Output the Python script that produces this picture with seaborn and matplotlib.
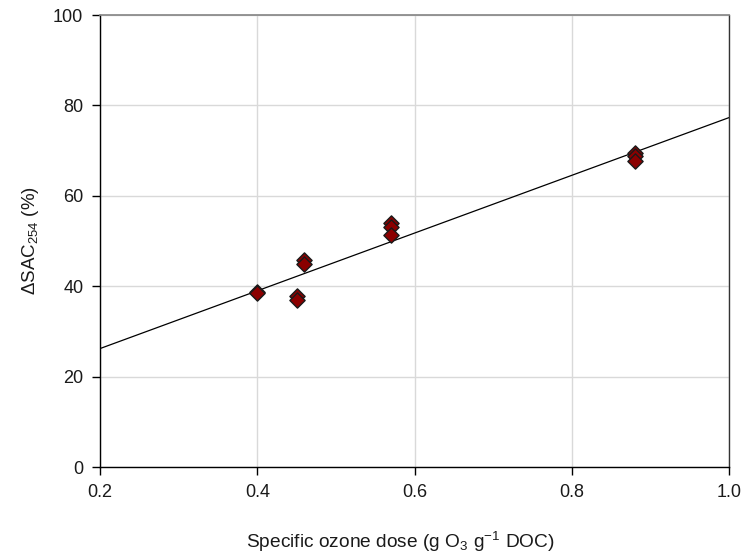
import matplotlib
matplotlib.use("Agg")
import matplotlib.pyplot as plt
import seaborn as sns
import pandas as pd

dose = [0.40, 0.40, 0.45, 0.45, 0.46, 0.46, 0.57, 0.57, 0.57, 0.88, 0.88, 0.88]
dsac = [38.8, 38.4, 37.9, 37.0, 45.8, 45.0, 54.0, 53.2, 51.3, 69.4, 68.8, 67.8]
fit_x = [0.2, 1.0]
fit_y = [26.2, 77.3]
xticks = [0.2, 0.4, 0.6, 0.8, 1.0]
yticks = [0, 20, 40, 60, 80, 100]

sns.set_theme(style="white")
plt.rcParams['font.family'] = ['Liberation Sans', 'DejaVu Sans']
plt.rcParams['mathtext.default'] = 'regular'

fig = plt.figure(figsize=(7.42, 5.53), dpi=100)
ax = fig.add_axes([100/742, 1-467/553, 629/742, 452/553])

df = pd.DataFrame({"dose": dose, "dsac": dsac})
sns.lineplot(x=fit_x, y=fit_y, ax=ax, color="black", linewidth=0.9, zorder=2)
sns.scatterplot(data=df, x="dose", y="dsac", ax=ax, marker="D", s=60,
                color="#8B0000", edgecolor="#1a1a1a", linewidth=1.0, zorder=3)

ax.set_xlim(0.2, 1.0)
ax.set_ylim(0, 100)
ax.set_xticks(xticks)
ax.set_yticks(yticks)
ax.set_xticklabels(["0.2", "0.4", "0.6", "0.8", "1.0"])
ax.grid(True, color="#d9d9d9", linewidth=1.0)
ax.set_axisbelow(True)
ax.tick_params(axis="both", direction="out", length=6, width=1, color="black",
               labelsize=13, pad=6, bottom=True, left=True, labelcolor="#1a1a1a")
for s in ["left", "bottom"]:
    ax.spines[s].set_color("black")
    ax.spines[s].set_linewidth(1.0)
ax.spines["top"].set_color("#888888")
ax.spines["right"].set_color("#333333")
ax.spines["right"].set_linewidth(1.0)

ax.set_xlabel("Specific ozone dose (g O$_3$ g$^{-1}$ DOC)", fontsize=13.8,
              color="#1a1a1a")
ax.xaxis.set_label_coords(0.478, -0.139)
ax.set_ylabel("ΔSAC$_{254}$ (%)", fontsize=13.5, color="#1a1a1a")
ax.yaxis.set_label_coords(-0.094, 0.5)

fig.savefig("out.png", dpi=100)
